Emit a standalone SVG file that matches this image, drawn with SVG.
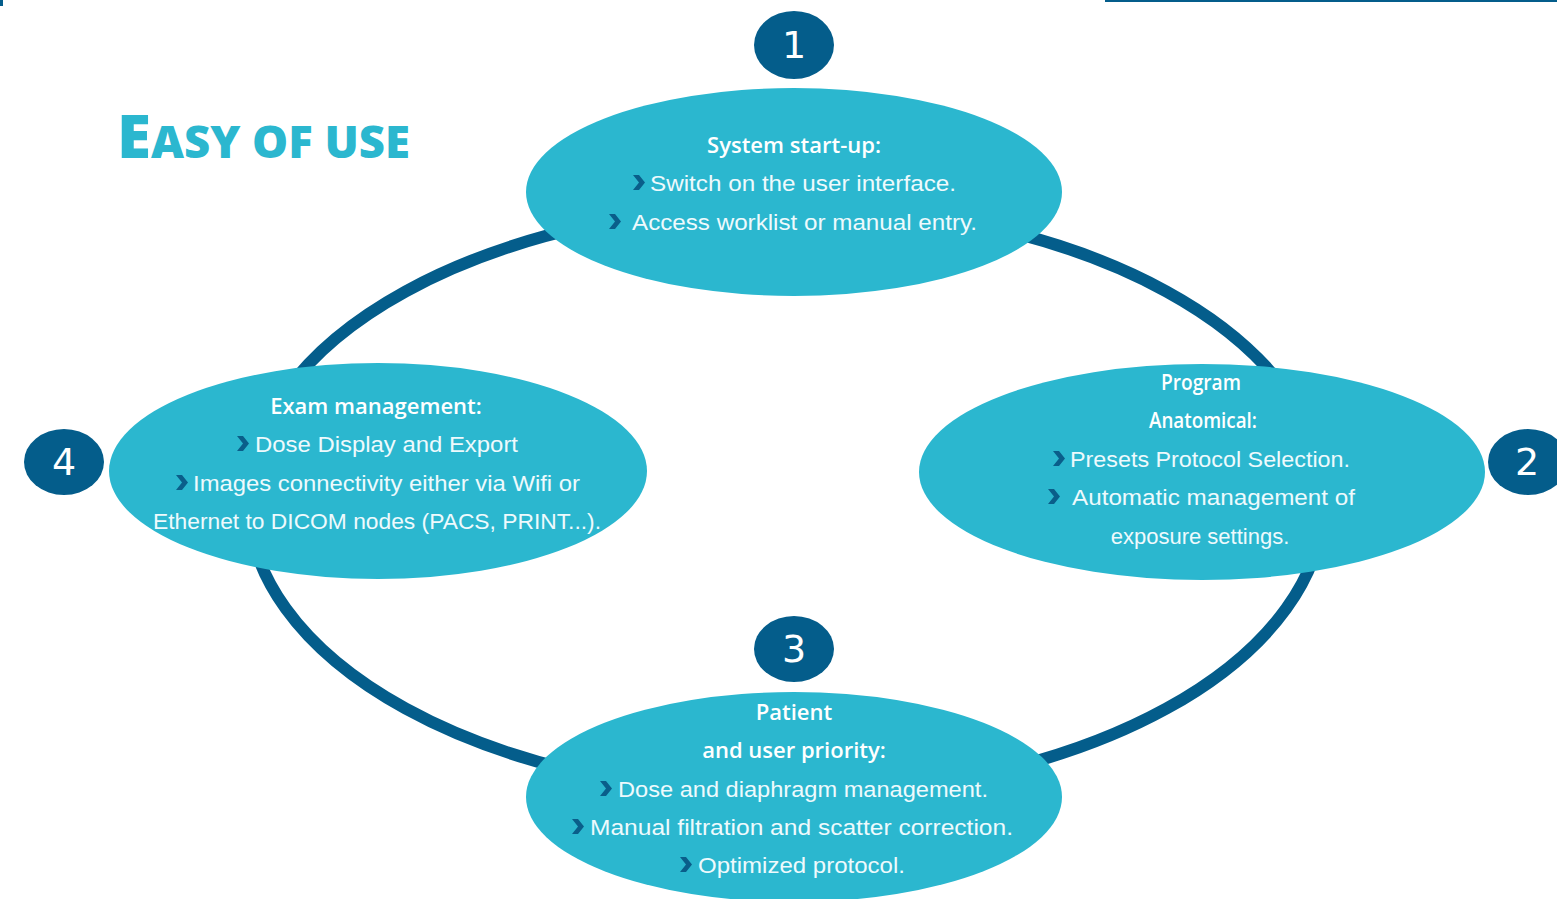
<svg xmlns="http://www.w3.org/2000/svg" width="1557" height="899" viewBox="0 0 1557 899">
<style>
.node{fill:#2bb7cf}
.num{fill:#045d8b}
.numt{fill:#fff;font-family:"DejaVu Sans",sans-serif;font-size:38px;text-anchor:middle}
.h{fill:#fff;font-family:"Open Sans","Liberation Sans",sans-serif;font-weight:600;font-size:22px;text-anchor:middle}
.t{fill:#eefafd;font-family:"Liberation Sans",sans-serif;font-size:22px}
.tc{fill:#eefafd;font-family:"Liberation Sans",sans-serif;font-size:22px;text-anchor:middle}
.ch{fill:#0a5e8a}
.title{fill:#2bb7cf;font-family:"Open Sans","Liberation Sans",sans-serif;font-weight:800}
</style>
<defs>
<path id="chev" d="M0,-15 L6,-15 L12,-7.5 L6,0 L0,0 L6,-7.5 Z"/>
</defs>
<rect width="1557" height="899" fill="#fff"/>
<rect x="0" y="0" width="3" height="6" fill="#045d8b"/>
<rect x="1105" y="0" width="452" height="2" fill="#045d8b"/>
<text class="title" x="117" y="158" textLength="293" lengthAdjust="spacingAndGlyphs"><tspan font-size="60">E</tspan><tspan font-size="44">ASY OF USE</tspan></text>
<g id="connectors">
<ellipse cx="786" cy="500" rx="538" ry="295" fill="none" stroke="#045d8b" stroke-width="12"/>
</g>
<g id="node1">
<ellipse class="node" cx="794" cy="192" rx="268" ry="104"/>
<text class="h" x="794" y="153">System start-up:</text>
<use href="#chev" class="ch" x="633" y="190"/>
<text class="t" x="650" y="191" textLength="306" lengthAdjust="spacingAndGlyphs">Switch on the user interface.</text>
<use href="#chev" class="ch" x="609" y="229"/>
<text class="t" x="632" y="230" textLength="345" lengthAdjust="spacingAndGlyphs">Access worklist or manual entry.</text>
</g>
<g id="badge1">
<ellipse class="num" cx="794" cy="45" rx="40" ry="34"/>
<text class="numt" x="794" y="58">1</text>
</g>
<g id="node2">
<ellipse class="node" cx="1202" cy="472" rx="283" ry="108"/>
<text class="h" x="1201" y="390" font-size="21" textLength="80" lengthAdjust="spacingAndGlyphs">Program</text>
<text class="h" x="1203" y="428" font-size="21" textLength="108" lengthAdjust="spacingAndGlyphs">Anatomical:</text>
<use href="#chev" class="ch" x="1053" y="466"/>
<text class="t" x="1070" y="467" textLength="280" lengthAdjust="spacingAndGlyphs">Presets Protocol Selection.</text>
<use href="#chev" class="ch" x="1048" y="504"/>
<text class="t" x="1072" y="505" textLength="283" lengthAdjust="spacingAndGlyphs">Automatic management of</text>
<text class="tc" x="1200" y="544">exposure settings.</text>
</g>
<g id="badge2">
<ellipse class="num" cx="1528" cy="462" rx="40" ry="33"/>
<text class="numt" x="1527" y="475">2</text>
</g>
<g id="node3">
<ellipse class="node" cx="794" cy="797" rx="268" ry="105"/>
<text class="h" x="794" y="720">Patient</text>
<text class="h" x="794" y="758">and user priority:</text>
<use href="#chev" class="ch" x="600" y="796"/>
<text class="t" x="618" y="797" textLength="370" lengthAdjust="spacingAndGlyphs">Dose and diaphragm management.</text>
<use href="#chev" class="ch" x="572" y="834"/>
<text class="t" x="590" y="835" textLength="423" lengthAdjust="spacingAndGlyphs">Manual filtration and scatter correction.</text>
<use href="#chev" class="ch" x="680" y="872"/>
<text class="t" x="698" y="873" textLength="207" lengthAdjust="spacingAndGlyphs">Optimized protocol.</text>
</g>
<g id="badge3">
<ellipse class="num" cx="794" cy="649" rx="40" ry="33"/>
<text class="numt" x="794" y="662">3</text>
</g>
<g id="node4">
<ellipse class="node" cx="378" cy="471" rx="269" ry="108"/>
<text class="h" x="376" y="414">Exam management:</text>
<use href="#chev" class="ch" x="237" y="451"/>
<text class="t" x="255" y="452" textLength="263" lengthAdjust="spacingAndGlyphs">Dose Display and Export</text>
<use href="#chev" class="ch" x="176" y="490"/>
<text class="t" x="193" y="491" textLength="387" lengthAdjust="spacingAndGlyphs">Images connectivity either via Wifi or</text>
<text class="t" x="153" y="529" textLength="448" lengthAdjust="spacingAndGlyphs">Ethernet to DICOM nodes (PACS, PRINT...).</text>
</g>
<g id="badge4">
<ellipse class="num" cx="64" cy="462" rx="40" ry="33"/>
<text class="numt" x="64" y="475">4</text>
</g>
</svg>
